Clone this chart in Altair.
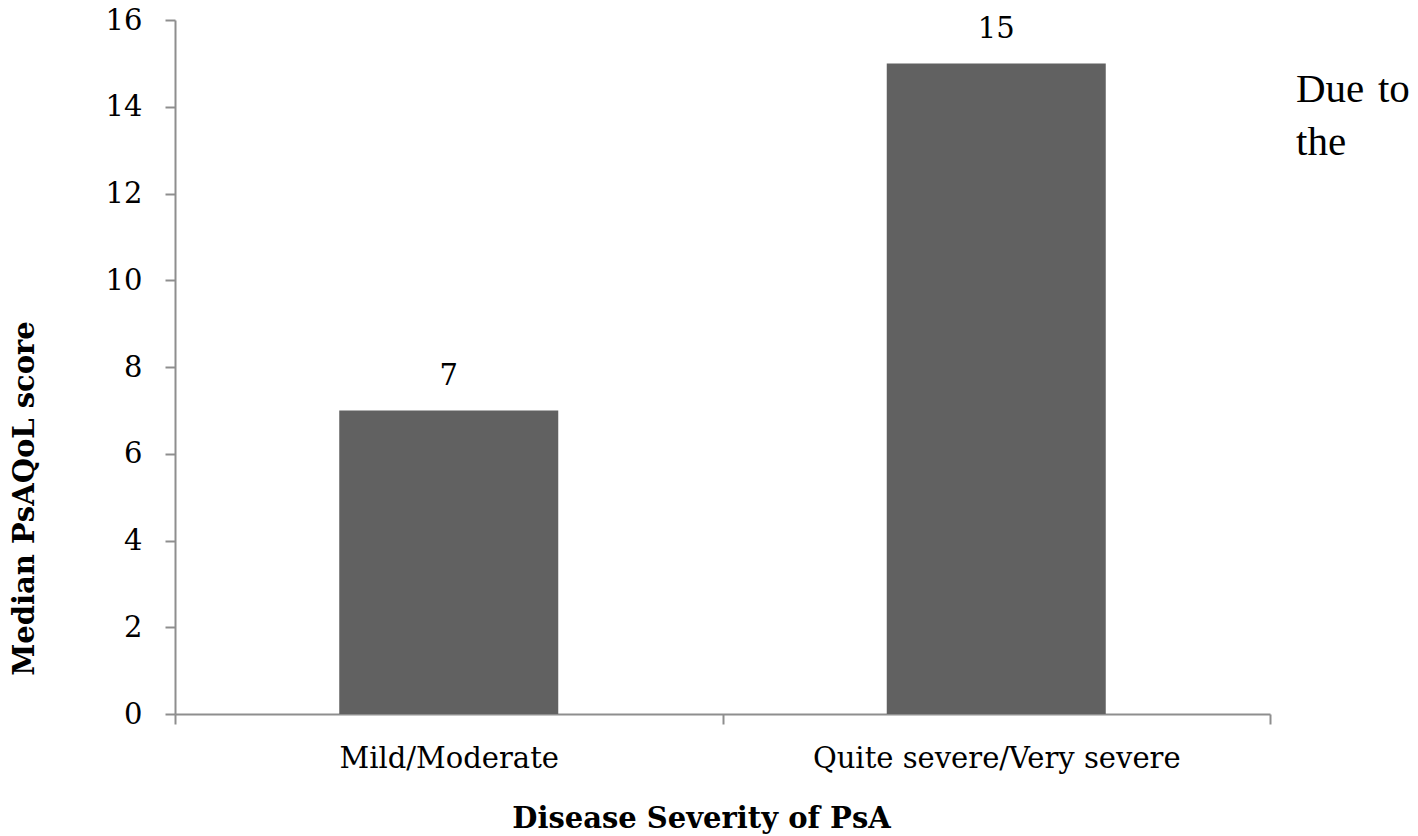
import altair as alt
import pandas as pd

categories = ["Mild/Moderate", "Quite severe/Very severe"]
values = [7, 15]
value_labels = ["7", "15"]
y_ticks = [0, 2, 4, 6, 8, 10, 12, 14, 16]
note_lines = ["Due\u00a0\u200ato", "the"]

df = pd.DataFrame({"cat": categories, "val": values, "lab": value_labels})

FONT = "DejaVu Serif"
FS = 29

base = alt.Chart(df)

x_enc = alt.X(
    "cat:N",
    sort=categories,
    scale=alt.Scale(paddingInner=0, paddingOuter=0),
    axis=alt.Axis(
        title="Disease Severity of PsA",
        labelAngle=0,
        labelLimit=0,
        tickBand="extent",
        tickSize=10,
        labelPadding=20,
        titlePadding=31,
        titleX=526,
    ),
)

bars = base.mark_bar(color="#616161", width=alt.RelativeBandSize(0.4)).encode(
    x=x_enc,
    y=alt.Y(
        "val:Q",
        scale=alt.Scale(domain=[0, 16]),
        axis=alt.Axis(
            title="Median PsAQoL score",
            values=y_ticks,
            tickSize=10,
            labelPadding=23,
            grid=False,
            titlePadding=66,
            titleY=478,
        ),
    ),
)

labels = base.mark_text(dy=-25, baseline="alphabetic", font=FONT, fontSize=FS, color="#000000").encode(
    x=alt.X("cat:N", sort=categories),
    y="val:Q",
    text="lab:N",
)

note1 = alt.Chart(pd.DataFrame({"t": [note_lines[0]]})).mark_text(
    font="Liberation Serif", fontSize=41, align="left", baseline="alphabetic", color="#000000"
).encode(x=alt.value(1121), y=alt.value(82), text="t:N")

note2 = alt.Chart(pd.DataFrame({"t": [note_lines[1]]})).mark_text(
    font="Liberation Serif", fontSize=41, align="left", baseline="alphabetic", color="#000000"
).encode(x=alt.value(1121), y=alt.value(135), text="t:N")

chart = (
    alt.layer(bars, labels, note1, note2)
    .properties(
        width=1095,
        height=694,
        autosize="none",
        padding={"left": 167, "top": 12, "right": 140, "bottom": 122},
    )
    .configure_view(stroke=None)
    .configure_axis(
        domainColor="#8e8e8e",
        tickColor="#8e8e8e",
        domainWidth=2,
        tickWidth=2,
        labelFont=FONT,
        labelFontSize=FS,
        labelColor="#000000",
        titleFont=FONT,
        titleFontSize=FS,
        titleFontWeight="bold",
        titleColor="#000000",
    )
)

chart.save("out.html", embed_options={"renderer": "svg", "actions": False})
